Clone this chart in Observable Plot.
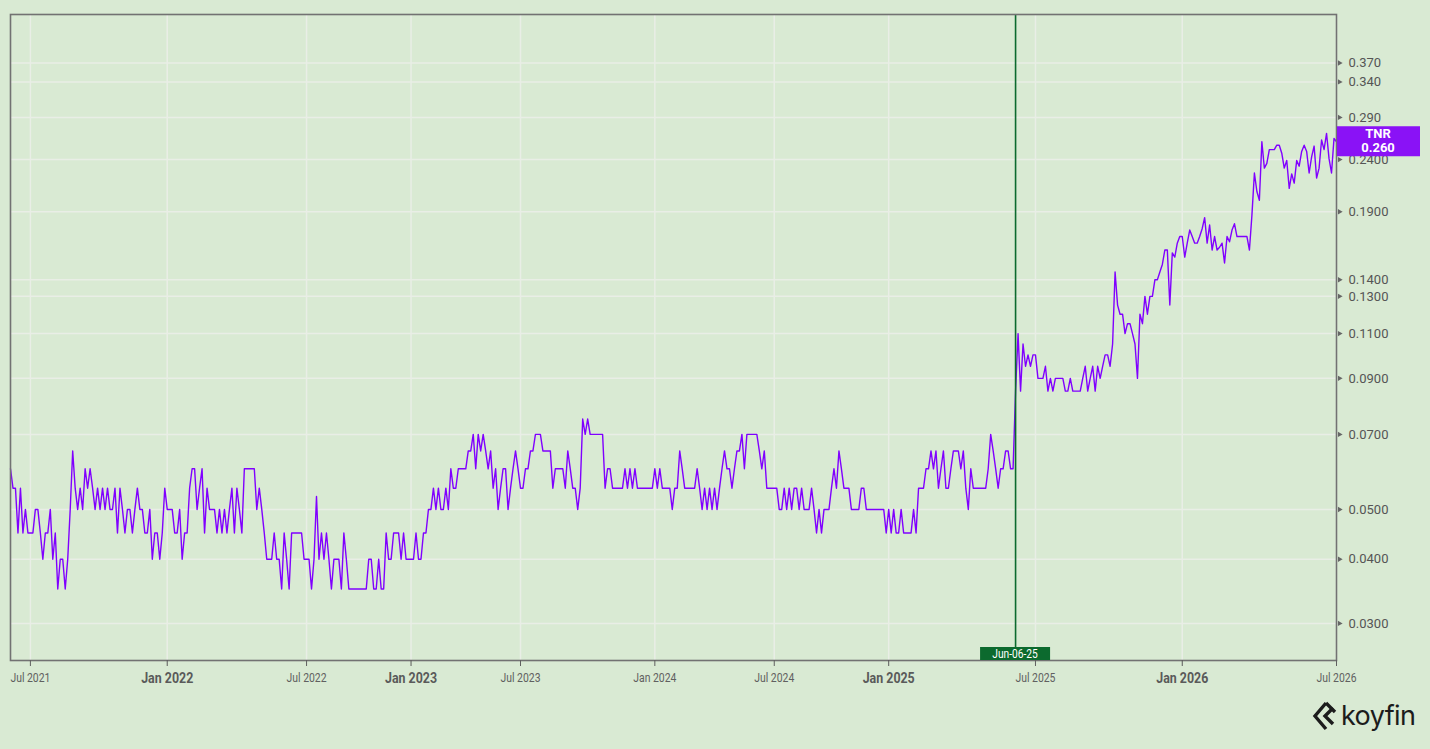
<!DOCTYPE html>
<html><head><meta charset="utf-8">
<script src="https://cdn.jsdelivr.net/npm/d3@7"></script>
<script src="https://cdn.jsdelivr.net/npm/@observablehq/plot@0.6"></script>
<style>
html,body{margin:0;padding:0;background:#d9ead3;overflow:hidden;}
#wrap{position:relative;width:1430px;height:749px;overflow:hidden;background:#d9ead3;}
#chart svg{display:block;}
#logo{position:absolute;left:1312px;top:701px;display:flex;align-items:center;gap:3px;font-family:Inter,"Open Sans",sans-serif;font-size:27px;line-height:30px;color:#1c1c1c;letter-spacing:-0.6px;}
#logo svg{display:block;}
</style></head><body>
<div id="wrap"><div id="chart"></div>
<div id="logo"><svg width="26" height="30" viewBox="0 0 26 30"><polyline points="14,2 3,15 14,28" fill="none" stroke="#1c1c1c" stroke-width="3.4" stroke-linejoin="miter"/><polyline points="21,7 13,15 21,23" fill="none" stroke="#1c1c1c" stroke-width="3.4"/><polyline points="14,2 23,11" fill="none" stroke="#1c1c1c" stroke-width="3.4"/></svg><span>koyfin</span></div>
</div>
<script>
// ---- data: TNR closing price per observation, grouped by half-year ----
const periodLabels = ["", "Jul 2021", "Jan 2022", "Jul 2022", "Jan 2023", "Jul 2023", "Jan 2024", "Jul 2024", "Jan 2025", "Jul 2025", "Jan 2026", "Jul 2026"];
const boldLabels = ["Jan 2022", "Jan 2023", "Jan 2025", "Jan 2026"];

const pStart = [0.06,0.055,0.055,0.045,0.055,0.045,0.05,0.045];
const pJul2021 = [0.045,0.045,0.05,0.05,0.045,0.04,0.045,0.045,0.05,0.04,0.045,0.035,0.04,0.04,0.035,0.04,0.05,0.065,0.055,0.05,0.055,0.05,0.06,0.055,0.06,0.055,0.05,0.055,0.05,0.055,0.05,0.055,0.05,0.05,0.055,0.045,0.055,0.05,0.045,0.05,0.05,0.045,0.05,0.055,0.05,0.05,0.045,0.045,0.05,0.04,0.045,0.045,0.04,0.045,0.055];
const pJan2022 = [0.05,0.05,0.05,0.045,0.045,0.05,0.04,0.045,0.045,0.055,0.06,0.06,0.05,0.055,0.06,0.045,0.055,0.05,0.05,0.05,0.045,0.05,0.045,0.05,0.045,0.05,0.055,0.045,0.055,0.05,0.045,0.06,0.06,0.06,0.06,0.06,0.05,0.055,0.05,0.045,0.04,0.04,0.04,0.045,0.04,0.04,0.035,0.045,0.04,0.035,0.045,0.045,0.045,0.045,0.045,0.04];
const pJul2022 = [0.04,0.04,0.035,0.04,0.053,0.04,0.045,0.04,0.045,0.04,0.035,0.04,0.04,0.04,0.035,0.045,0.04,0.035,0.035,0.035,0.035,0.035,0.035,0.035,0.035,0.04,0.04,0.035,0.035,0.04,0.035,0.035,0.045,0.04,0.04,0.045,0.045,0.045,0.04,0.045,0.04,0.04];
const pJan2023 = [0.04,0.04,0.045,0.04,0.04,0.045,0.045,0.05,0.05,0.055,0.05,0.055,0.05,0.05,0.055,0.05,0.06,0.055,0.055,0.06,0.06,0.06,0.06,0.065,0.065,0.07,0.06,0.07,0.065,0.07,0.065,0.06,0.065,0.055,0.06,0.05,0.055,0.06,0.06,0.05,0.055,0.06,0.065,0.06];
const pJul2023 = [0.055,0.055,0.06,0.06,0.065,0.065,0.07,0.07,0.07,0.065,0.065,0.065,0.065,0.055,0.06,0.06,0.06,0.06,0.055,0.065,0.06,0.055,0.055,0.05,0.055,0.075,0.07,0.075,0.07,0.07,0.07,0.07,0.07,0.07,0.055,0.06,0.06,0.055,0.055,0.055,0.055,0.055,0.06,0.055,0.06,0.055,0.06,0.055,0.055,0.055,0.055,0.055,0.055,0.055];
const pJan2024 = [0.06,0.055,0.06,0.055,0.055,0.055,0.055,0.05,0.055,0.055,0.065,0.06,0.055,0.055,0.055,0.055,0.055,0.06,0.055,0.05,0.055,0.05,0.055,0.05,0.055,0.05,0.055,0.06,0.065,0.06,0.06,0.055,0.06,0.065,0.065,0.07,0.06,0.07,0.07,0.07,0.07,0.07,0.065,0.06,0.065,0.055,0.055,0.055];
const pJul2024 = [0.055,0.055,0.05,0.05,0.055,0.05,0.055,0.05,0.055,0.055,0.05,0.055,0.05,0.05,0.05,0.055,0.05,0.045,0.05,0.045,0.05,0.05,0.05,0.055,0.06,0.055,0.065,0.06,0.055,0.055,0.055,0.05,0.05,0.05,0.05,0.055,0.055,0.05,0.05,0.05,0.05,0.05,0.05,0.05,0.05,0.045];
const pJan2025 = [0.05,0.045,0.05,0.045,0.045,0.05,0.045,0.045,0.045,0.045,0.05,0.045,0.055,0.055,0.055,0.06,0.06,0.065,0.06,0.065,0.055,0.06,0.065,0.055,0.055,0.06,0.065,0.065,0.065,0.06,0.065,0.055,0.05,0.06,0.055,0.055,0.055,0.055,0.055,0.055,0.06,0.07,0.065,0.06,0.055,0.06,0.06,0.065,0.065,0.06,0.06,0.085,0.11,0.085,0.105,0.095,0.1,0.095,0.1];
const pJul2025 = [0.1,0.09,0.09,0.09,0.095,0.085,0.09,0.085,0.09,0.09,0.09,0.09,0.085,0.085,0.09,0.085,0.085,0.085,0.085,0.09,0.095,0.085,0.09,0.095,0.085,0.095,0.09,0.095,0.1,0.1,0.095,0.105,0.145,0.125,0.12,0.12,0.11,0.115,0.115,0.11,0.105,0.09,0.12,0.115,0.13,0.12,0.13,0.13,0.14,0.14,0.145,0.15,0.16,0.16,0.125,0.158,0.155,0.165,0.17];
const pJan2026 = [0.17,0.155,0.165,0.175,0.17,0.165,0.165,0.17,0.176,0.185,0.165,0.179,0.16,0.17,0.16,0.162,0.165,0.151,0.17,0.166,0.175,0.18,0.17,0.17,0.17,0.17,0.17,0.16,0.187,0.226,0.208,0.2,0.26,0.231,0.236,0.251,0.251,0.251,0.256,0.256,0.247,0.231,0.239,0.211,0.225,0.216,0.239,0.233,0.249,0.256,0.249,0.226,0.243,0.255,0.221,0.231,0.262,0.251,0.27,0.241,0.226,0.264];
const pJul2026 = [0.26];

const periodValues = [pStart, pJul2021, pJan2022, pJul2022, pJan2023, pJul2023, pJan2024, pJul2024, pJan2025, pJul2025, pJan2026, pJul2026];

const yTicks = [0.37, 0.34, 0.29, 0.24, 0.19, 0.14, 0.13, 0.11, 0.09, 0.07, 0.05, 0.04, 0.03];
const yTickLabels = ["0.370", "0.340", "0.290", "0.2400", "0.1900", "0.1400", "0.1300", "0.1100", "0.0900", "0.0700", "0.0500", "0.0400", "0.0300"];
const yDomain = [0.0254, 0.46];

const ticker = "TNR";
const lastLabel = "0.260";
const eventLabel = "Jun-06-25";
const eventPeriod = "Jan 2025";
const eventOffset = 51;

// ---- build table ----
const data = [];
const tickIdx = [];
const tickName = new Map();
let eventI = 0;
periodValues.forEach((vals, k) => {
  const lab = periodLabels[k];
  if (lab) { tickIdx.push(data.length); tickName.set(data.length, lab); }
  if (lab === eventPeriod) eventI = data.length + eventOffset;
  vals.forEach(v => data.push({i: data.length, v}));
});
const N = data.length;
const boldIdx = tickIdx.filter(i => boldLabels.includes(tickName.get(i)));
const normIdx = tickIdx.filter(i => !boldLabels.includes(tickName.get(i)));
const yLab = new Map(yTicks.map((t, k) => [t, yTickLabels[k]]));

const grid = "#e9eee6";
const plot = Plot.plot({
  width: 1430, height: 749,
  marginLeft: 10, marginRight: 94, marginTop: 14, marginBottom: 89,
  style: {background: "transparent", fontFamily: "Roboto, sans-serif"},
  x: {type: "linear", domain: [0, N - 1], axis: null, label: null},
  y: {type: "log", domain: yDomain, axis: null, label: null},
  marks: [
    Plot.gridX(tickIdx, {stroke: grid, strokeOpacity: 1, strokeWidth: 1.5}),
    Plot.gridY(yTicks, {stroke: grid, strokeOpacity: 1, strokeWidth: 1.5}),
    Plot.line(data, {x: "i", y: "v", stroke: "#8000ff", strokeWidth: 1.4}),
    Plot.ruleX([eventI], {stroke: "#0c6a2e", strokeWidth: 1.6}),
    Plot.frame({stroke: "#727272", strokeWidth: 1.6}),
    Plot.axisX(normIdx, {label: null, tickSize: 6, tickPadding: 6, tickFormat: i => tickName.get(i), fontSize: 13, color: "#606060"}),
    Plot.axisX(boldIdx, {label: null, tickSize: 6, tickPadding: 5, tickFormat: i => tickName.get(i), fontSize: 15.5, fontWeight: "bold", color: "#5a5a5a"}),
    Plot.axisY(yTicks, {label: null, anchor: "right", tickSize: 0, tickPadding: 12, tickFormat: v => yLab.get(v), fontSize: 13, color: "#555"}),
    Plot.dot(yTicks, {y: d => d, frameAnchor: "right", dx: 3, symbol: "triangle", rotate: 90, r: 2, fill: "#666", stroke: "none"})
  ]
});
document.getElementById("chart").appendChild(plot);

// condense x-axis labels like the original narrow font
plot.querySelectorAll('g[aria-label="x-axis tick label"] text').forEach(t => {
  const L = t.getComputedTextLength();
  t.setAttribute("textLength", (L * 0.8).toFixed(1));
  t.setAttribute("lengthAdjust", "spacingAndGlyphs");
});

const sx = plot.scale("x"), sy = plot.scale("y");
const svg = d3.select(plot);
// event label at bottom
const ex = sx.apply(eventI);
const bottom = 749 - 89;
const eg = svg.append("g");
eg.append("rect").attr("x", ex - 35).attr("y", bottom - 13).attr("width", 70).attr("height", 13).attr("fill", "#0c6a2e");
const et = eg.append("text").attr("x", ex).attr("y", bottom - 2.5).attr("text-anchor", "middle")
  .attr("fill", "white").attr("font-size", 12).attr("font-family", "Roboto, sans-serif").text(eventLabel);
et.attr("textLength", (et.node().getComputedTextLength() * 0.85).toFixed(1)).attr("lengthAdjust", "spacingAndGlyphs");

// last value box
const ly = sy.apply(data[N - 1].v);
const right = 1430 - 94;
const bg = svg.append("g");
bg.append("rect").attr("x", right + 1).attr("y", ly - 15).attr("width", 83).attr("height", 30).attr("fill", "#8a12f6");
bg.append("text").attr("x", right + 42).attr("y", ly - 3).attr("text-anchor", "middle").attr("fill", "white")
  .attr("font-size", 13).attr("font-weight", "bold").attr("font-family", "Roboto, sans-serif").text(ticker);
bg.append("text").attr("x", right + 42).attr("y", ly + 11).attr("text-anchor", "middle").attr("fill", "white")
  .attr("font-size", 13).attr("font-weight", "bold").attr("font-family", "Roboto, sans-serif").text(lastLabel);
</script>
</body></html>
